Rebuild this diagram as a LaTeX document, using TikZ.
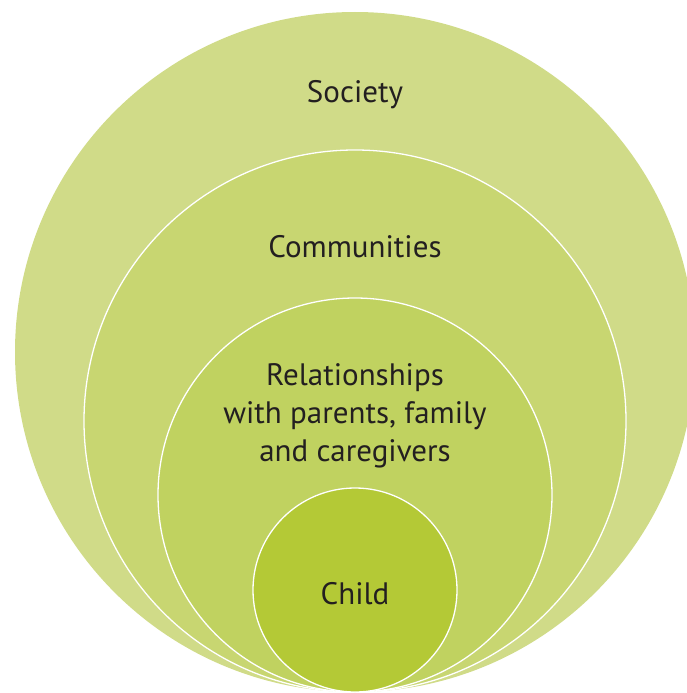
\documentclass[tikz,border=0pt]{standalone}
\usepackage{fontspec}
\setmainfont{PT Sans}
\definecolor{societyc}{HTML}{D0DB88}
\definecolor{commc}{HTML}{C8D671}
\definecolor{relc}{HTML}{C0D260}
\definecolor{childc}{HTML}{B4C936}
\definecolor{txtc}{HTML}{231F20}
\begin{document}
\begin{tikzpicture}[x=1pt,y=-1pt,
  lbl/.style={text=txtc, font=\fontsize{31}{38}\selectfont, align=center, inner sep=0pt},
  ring/.style={draw=white, line width=1.3pt}]
\useasboundingbox (0,0) rectangle (687,693);
\begin{scope}
\clip (0,0) rectangle (687,693);
\fill[societyc] (355,352) circle (340pt);
\filldraw[fill=commc, ring] (355,421) circle (271pt);
\filldraw[fill=relc, ring] (355,495) circle (197pt);
\filldraw[fill=childc, ring] (355,590) circle (102pt);
\end{scope}
\node[lbl, anchor=base] (soc) at (355,102) {Society};
\node[lbl, anchor=base] (com) at (355,257) {Communities};
\node[lbl] (rel) at (355,416) {Relationships\\with parents, family\\and caregivers};
\node[lbl, anchor=base] (chi) at (355,604) {Child};
\end{tikzpicture}
\end{document}
